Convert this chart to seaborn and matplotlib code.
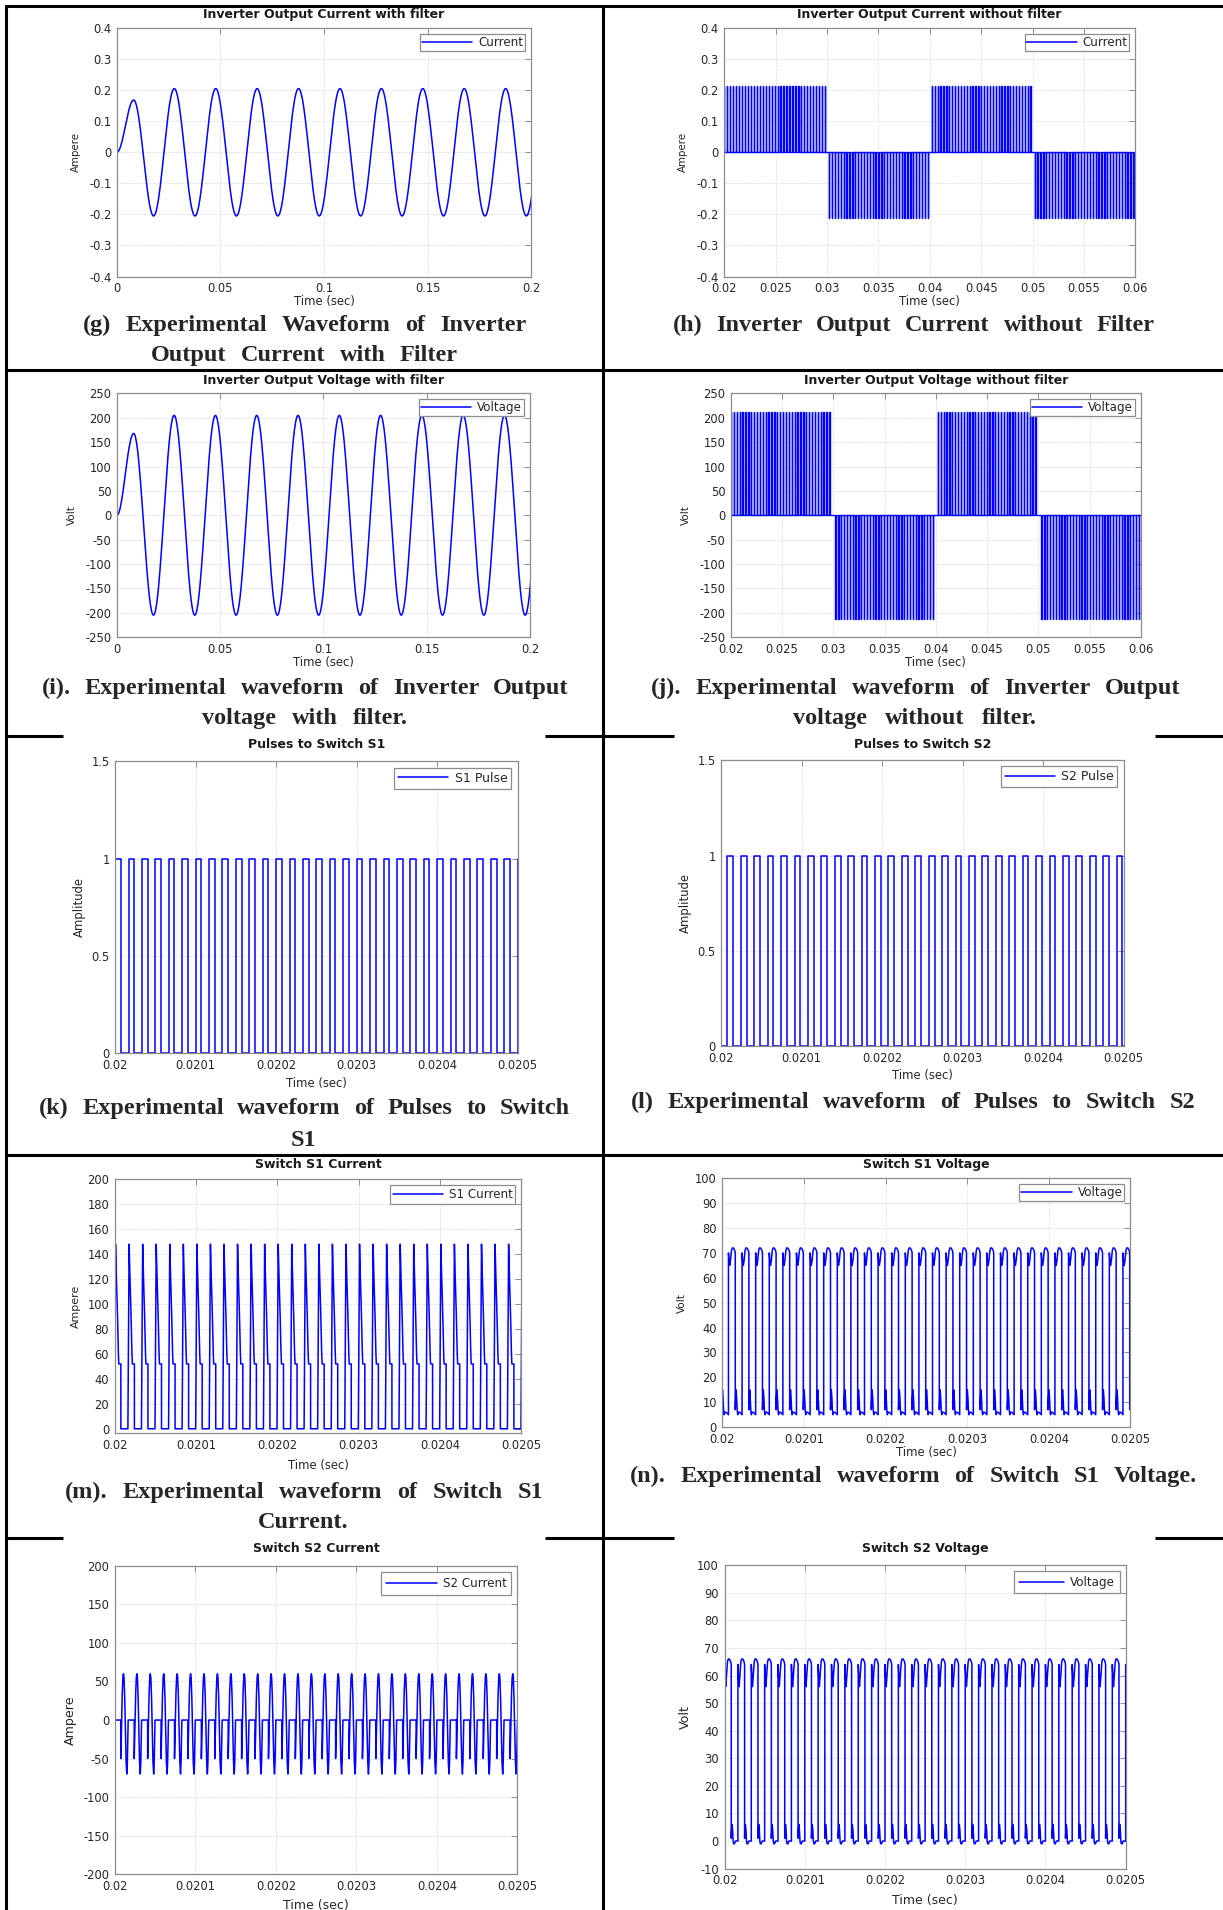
import numpy as np
import pandas as pd
import matplotlib
matplotlib.use("Agg")
import matplotlib.pyplot as plt
import seaborn as sns
from matplotlib.lines import Line2D

# ------------------------------------------------------------------ DATA
# (g)/(i) filtered output: extrema of the sinusoid (time s, value)
sine_ext_t = [0.0, 0.0081, 0.0177, 0.0277, 0.0377, 0.0477, 0.0577, 0.0677, 0.0777,
              0.0877, 0.0977, 0.1077, 0.1177, 0.1277, 0.1377, 0.1477, 0.1577, 0.1677,
              0.1777, 0.1877, 0.1977, 0.2077]
cur_ext_v = [0.0, 0.168, -0.205, 0.205, -0.205, 0.205, -0.205, 0.205, -0.205, 0.205,
             -0.205, 0.205, -0.205, 0.205, -0.205, 0.205, -0.205, 0.205, -0.205, 0.205,
             -0.205, 0.205]
volt_ext_v = [0, 168, -205, 205, -205, 205, -205, 205, -205, 205, -205, 205, -205, 205,
              -205, 205, -205, 205, -205, 205, -205, 205]

# (h)/(j) unfiltered output: chopped half-cycle blocks
h_block_start = [0.0200, 0.0302, 0.0402, 0.0502]
h_block_end = [0.0298, 0.0398, 0.0498, 0.0598]
h_block_sign = [1, -1, 1, -1]
h_amp = 0.213
j_block_start = [0.0200, 0.0302, 0.0402, 0.0503]
j_block_end = [0.0296, 0.0397, 0.0497, 0.0598]
j_block_sign = [1, -1, 1, -1]
j_amp = 212
pulses_per_block = 35

# switching period (30 periods between 0.02 and 0.0205 s)
n_periods = 30
# (k)/(l) gate pulses: on/off phase within a period
s1_on, s1_off = 0.00, 0.42
s2_on, s2_off = 0.47, 0.90
# (m) switch S1 current, one period (phase, A)
m_phase = [-0.03, 0.06, 0.12, 0.20, 0.27, 0.30, 0.45, 0.45, 0.97]
m_value = [0, 148, 122, 92, 60, 52, 52, 0, 0]
# (n) switch S1 voltage, one period starting at its rising edge (phase, V)
n_offset = 0.45
n_phase = [0.0, 0.0, 0.04, 0.09, 0.15, 0.22, 0.28, 0.36, 0.46, 0.5, 0.5, 0.53, 0.56, 0.60,
           0.64, 0.68, 0.74, 0.82, 1.0]
n_value = [5, 70, 67, 65, 67, 71, 72, 72, 71, 70, 7, 12, 15, 12, 7, 5, 6, 6, 5]
# (o) switch S2 current, one period (phase, A)
o_phase = [0.0, 0.45, 0.452, 0.50, 0.56, 0.61, 0.65, 0.69, 0.74, 0.80, 0.85, 0.90, 0.94, 0.98, 1.0]
o_value = [0, 0, -50, -10, 35, 56, 60, 55, 30, -20, -55, -70, -55, -15, 0]
# (p) switch S2 voltage, one period starting at its rising edge (phase, V)
p_offset = 0.0
p_phase = [0.0, 0.0, 0.04, 0.09, 0.15, 0.22, 0.28, 0.36, 0.46, 0.5, 0.5, 0.53, 0.56, 0.60,
           0.64, 0.68, 0.74, 0.82, 1.0]
p_value = [0, 64, 60, 56, 60, 65, 66, 66, 65, 64, 1, 4, 6, 4, 0, -1, -1, 0, 0]

# tick labels
g_xt = [0, 0.05, 0.1, 0.15, 0.2]; g_xtl = ["0", "0.05", "0.1", "0.15", "0.2"]
cur_yt = [-0.4, -0.3, -0.2, -0.1, 0, 0.1, 0.2, 0.3, 0.4]
cur_ytl = ["-0.4", "-0.3", "-0.2", "-0.1", "0", "0.1", "0.2", "0.3", "0.4"]
h_xt = [0.02, 0.025, 0.03, 0.035, 0.04, 0.045, 0.05, 0.055, 0.06]
h_xtl = ["0.02", "0.025", "0.03", "0.035", "0.04", "0.045", "0.05", "0.055", "0.06"]
volt_yt = [-250, -200, -150, -100, -50, 0, 50, 100, 150, 200, 250]
sw_xt = [0.02, 0.0201, 0.0202, 0.0203, 0.0204, 0.0205]
sw_xtl = ["0.02", "0.0201", "0.0202", "0.0203", "0.0204", "0.0205"]
pulse_yt = [0, 0.5, 1, 1.5]; pulse_ytl = ["0", "0.5", "1", "1.5"]
m_yt = list(range(0, 201, 20))
n_yt = list(range(0, 101, 10))
o_yt = list(range(-200, 201, 50))
p_yt = list(range(-10, 101, 10))

# ------------------------------------------------------------------ STYLE
sns.set_theme(style="white")
plt.rcParams["font.family"] = ["DejaVu Sans"]
plt.rcParams["axes.unicode_minus"] = False

W, H = 1223, 1910
fig = plt.figure(figsize=(W / 100, H / 100), dpi=100)
fig.patch.set_facecolor("white")
BLUE = "#0000ff"


def fx(x):
    return x / 1004.0


def fy(y):
    return 1 - y / 1568.0


# ------------------------------------------------------------------ helpers
def half_cos_path(ext_t, ext_v, n=40):
    ts, vs = [], []
    for i in range(len(ext_t) - 1):
        s = np.linspace(0, 1, n, endpoint=False)
        ts.append(ext_t[i] + s * (ext_t[i + 1] - ext_t[i]))
        vs.append(ext_v[i] + (ext_v[i + 1] - ext_v[i]) * (1 - np.cos(np.pi * s)) / 2)
    ts.append([ext_t[-1]]); vs.append([ext_v[-1]])
    return np.concatenate(ts), np.concatenate(vs)


def chopped(starts, ends, signs, amp, n, duty=0.1):
    ts, vs = [starts[0]], [0.0]
    for s, e, sg in zip(starts, ends, signs):
        pos = np.linspace(s, e, n)
        w = duty * (e - s) / (n - 1)
        for p in pos:
            ts += [p, p, p + w, p + w]
            vs += [0, sg * amp, sg * amp, 0]
    ts.append(0.0605); vs.append(0.0)
    return np.array(ts), np.array(vs)


def tile(phase, value, t0, T, k0, k1):
    ph = np.asarray(phase, float)
    t = np.concatenate([t0 + (k + ph) * T for k in range(k0, k1)])
    v = np.tile(np.asarray(value, float), k1 - k0)
    return t, v


def gate(on, off, t0, T, k0, k1):
    return tile([on, on, off, off], [0, 1, 1, 0], t0, T, k0, k1)


def make_axes(l, t, r, b):
    return fig.add_axes([fx(l), fy(b), fx(r) - fx(l), fy(t) - fy(b)])


def panel(box, t, v, label, xlim, ylim, xt, xtl, yt, ytl, title, ylab,
          title_y, xlab_y, ylab_x, leg_pad=0.15, leg_hl=4.2, leg_fs=8.6,
          lab_size=8.4, ylab_size=8.4, lw=1.1):
    l, tp, r, b = box
    ax = make_axes(l, tp, r, b)
    df = pd.DataFrame({"t": t, "v": v})
    sns.lineplot(data=df, x="t", y="v", ax=ax, color=BLUE, linewidth=lw,
                 estimator=None, sort=False, label=label)
    ax.set_xlim(*xlim)
    ax.set_ylim(*ylim)
    ax.set_xticks(xt)
    ax.set_xticklabels(xtl)
    ax.set_yticks(yt)
    ax.set_yticklabels(ytl)
    ax.set_xlabel("")
    ax.set_ylabel("")
    ax.grid(True, color="#d4d4d4", linestyle=(0, (1, 1.5)), linewidth=0.7)
    ax.tick_params(direction="in", length=4, width=0.6, color="#808080",
                   top=True, right=True, labelsize=8.3, labelcolor="#262626", pad=4)
    for sp in ax.spines.values():
        sp.set_color("#8c8c8c")
        sp.set_linewidth(0.9)
    leg = ax.legend(loc="upper right", frameon=True, fancybox=False, framealpha=1,
                    edgecolor="#8c8c8c", fontsize=leg_fs, handlelength=leg_hl,
                    handletextpad=0.5, borderpad=leg_pad, borderaxespad=0.5)
    leg.get_frame().set_linewidth(0.9)
    for line in leg.get_lines():
        line.set_linewidth(1.1)
    for txt in leg.get_texts():
        txt.set_color("#262626")
    cx = (l + r) / 2
    fig.text(fx(cx), fy(title_y), title, ha="center", va="center",
             fontsize=9.0, fontweight="bold", color="#1a1a1a")
    fig.text(fx(cx), fy(xlab_y), "Time (sec)", ha="center", va="center",
             fontsize=lab_size, color="#262626")
    fig.text(fx(ylab_x), fy((tp + b) / 2), ylab, ha="center", va="center",
             rotation=90, fontsize=ylab_size, color="#262626")
    return ax


renderer = fig.canvas.get_renderer()


def caption(text, x0, x1, y, size=17.5):
    words = text.split()
    if len(words) == 1:
        fig.text(fx((x0 + x1) / 2), fy(y), text, ha="center", va="center",
                 fontsize=size, fontweight="bold", family="Liberation Serif")
        return
    objs = [fig.text(0, fy(y), w_, ha="left", va="center", fontsize=size,
                     fontweight="bold", family="Liberation Serif") for w_ in words]
    widths = [o.get_window_extent(renderer).width for o in objs]
    span = (x1 - x0) / 1004.0 * W
    gap = max((span - sum(widths)) / (len(words) - 1), 4.0)
    total = sum(widths) + gap * (len(words) - 1)
    x = ((x0 + x1) / 2) / 1004.0 * W - total / 2
    for o, w_ in zip(objs, widths):
        o.set_x(x / W)
        x += w_ + gap


# ------------------------------------------------------------------ panels
T = (0.0205 - 0.02) / n_periods
t0 = 0.02

tg, vg = half_cos_path(sine_ext_t, cur_ext_v)
panel((96, 23, 436, 227), tg, vg, "Current", (0, 0.2), (-0.4, 0.4), g_xt, g_xtl,
      cur_yt, cur_ytl, "Inverter Output Current with filter", "Ampere",
      12, 247.7, 62.3, ylab_size=7.4)

th, vh = chopped(h_block_start, h_block_end, h_block_sign, h_amp, pulses_per_block)
panel((594.5, 23, 932, 227), th, vh, "Current", (0.02, 0.06), (-0.4, 0.4), h_xt, h_xtl,
      cur_yt, cur_ytl, "Inverter Output Current without filter", "Ampere",
      12, 247.7, 560.4, ylab_size=7.4, lw=1.0)

ti, vi = half_cos_path(sine_ext_t, volt_ext_v)
panel((96, 323, 435, 523), ti, vi, "Voltage", (0, 0.2), (-250, 250), g_xt, g_xtl,
      volt_yt, [str(v) for v in volt_yt], "Inverter Output Voltage with filter", "Volt",
      312, 543.5, 59, ylab_size=7.6)

tj, vj = chopped(j_block_start, j_block_end, j_block_sign, j_amp, pulses_per_block)
panel((600, 323, 936.5, 523), tj, vj, "Voltage", (0.02, 0.06), (-250, 250), h_xt, h_xtl,
      volt_yt, [str(v) for v in volt_yt], "Inverter Output Voltage without filter", "Volt",
      312, 543.5, 562.7, ylab_size=7.6, lw=1.0)

tk, vk = gate(s1_on, s1_off, t0, T, -1, n_periods + 1)
panel((94.5, 625, 425, 864.6), tk, vk, "S1 Pulse", (0.02, 0.0205), (0, 1.5), sw_xt, sw_xtl,
      pulse_yt, pulse_ytl, "Pulses to Switch S1", "Amplitude",
      611.5, 889.4, 65.5, leg_pad=0.33, leg_hl=4.0, leg_fs=9.0, ylab_size=8.4)

tl, vl = gate(s2_on, s2_off, t0, T, -1, n_periods + 1)
panel((592, 624, 922.5, 859), tl, vl, "S2 Pulse", (0.02, 0.0205), (0, 1.5), sw_xt, sw_xtl,
      pulse_yt, pulse_ytl, "Pulses to Switch S2", "Amplitude",
      611.5, 883, 562.7, leg_pad=0.3, leg_hl=4.0, leg_fs=9.0, ylab_size=8.4)

tm, vm = tile(m_phase, m_value, t0, T, -1, n_periods + 1)
panel((94.2, 968.2, 428, 1176.5), tm, vm, "S1 Current", (0.02, 0.0205), (-3.5, 200),
      sw_xt, sw_xtl, m_yt, [str(v) for v in m_yt], "Switch S1 Current", "Ampere",
      955.7, 1202.7, 62.3, leg_pad=0.23, ylab_size=7.9)

tn, vn = tile(n_phase, n_value, t0 + n_offset * T, T, -2, n_periods + 1)
panel((593, 967.3, 928, 1171.6), tn, vn, "Voltage", (0.02, 0.0205), (0, 100),
      sw_xt, sw_xtl, n_yt, [str(v) for v in n_yt], "Switch S1 Voltage", "Volt",
      955.7, 1192.6, 560, leg_pad=0.17, ylab_size=7.6)

to, vo = tile(o_phase, o_value, t0, T, -1, n_periods + 1)
panel((94.2, 1285.5, 424.8, 1538.6), to, vo, "S2 Current", (0.02, 0.0205), (-200, 200),
      sw_xt, sw_xtl, o_yt, [str(v) for v in o_yt], "Switch S2 Current", "Ampere",
      1271.2, 1564, 57.5, leg_pad=0.42, lab_size=9.0, ylab_size=9.1)

tp_, vp = tile(p_phase, p_value, t0 + p_offset * T, T, -2, n_periods + 1)
panel((594.8, 1285, 924.1, 1534), tp_, vp, "Voltage", (0.02, 0.0205), (-10, 100),
      sw_xt, sw_xtl, p_yt, [str(v) for v in p_yt], "Switch S2 Voltage", "Volt",
      1271.2, 1560, 562.7, leg_pad=0.38, leg_hl=3.8, lab_size=9.0, ylab_size=9.1)

# ------------------------------------------------------------------ captions
caption("(g) Experimental Waveform of Inverter", 68, 432, 267)
caption("Output Current with Filter", 124, 376, 292)
caption("(h) Inverter Output Current without Filter", 552, 948, 267)
caption("(i). Experimental waveform of Inverter Output", 34, 467, 565)
caption("voltage with filter.", 166, 335, 590)
caption("(j). Experimental waveform of Inverter Output", 534, 969, 565)
caption("voltage without filter.", 651, 851, 590)
caption("(k) Experimental waveform of Pulses to Switch", 32, 468, 910)
caption("S1", 239, 259, 936)
caption("(l) Experimental waveform of Pulses to Switch S2", 518, 981, 905)
caption("(m). Experimental waveform of Switch S1", 53, 446, 1225)
caption("Current.", 239, 259, 1250)
caption("(n). Experimental waveform of Switch S1 Voltage.", 517, 983, 1212)

# ------------------------------------------------------------------ table rules
def rule(x0, y0, x1, y1, lw=2.2):
    fig.add_artist(Line2D([fx(x0), fx(x1)], [fy(y0), fy(y1)], color="black",
                          linewidth=lw, transform=fig.transFigure, solid_capstyle="butt"))


rule(4, 5, 1004, 5)
rule(5, 4, 5, 1568)
rule(495, 4, 495, 1568)
rule(5, 304, 1004, 304)
rule(5, 948, 1004, 948)
for yy in (604, 1263):
    rule(5, yy, 52, yy)
    rule(447, yy, 553, yy)
    rule(948, yy, 1004, yy)

fig.savefig("out.png", dpi=100, facecolor="white")
